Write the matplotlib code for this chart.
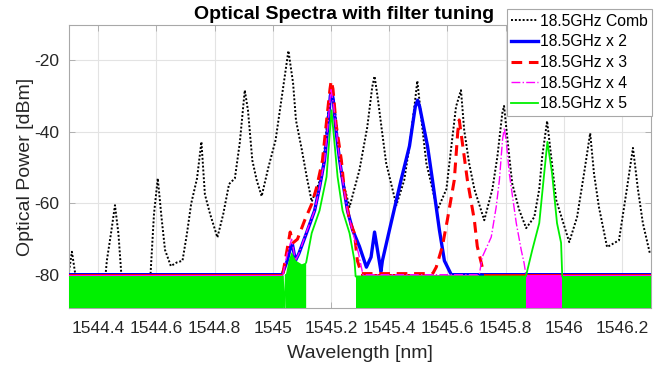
import numpy as np
import matplotlib
matplotlib.use("Agg")
import matplotlib.pyplot as plt

plt.rcParams['font.family'] = ['Liberation Sans', 'DejaVu Sans']
plt.rcParams['axes.unicode_minus'] = False

# ---------------- data ----------------
comb_wl = [1544.300, 1544.310, 1544.322, 1544.330, 1544.420, 1544.430, 1544.445, 1544.458,
           1544.470, 1544.480, 1544.490, 1544.570, 1544.580, 1544.592, 1544.605, 1544.618,
           1544.630, 1544.650, 1544.670, 1544.690, 1544.705, 1544.720, 1544.740, 1544.755,
           1544.767, 1544.785, 1544.810, 1544.830, 1544.850, 1544.870, 1544.887, 1544.904,
           1544.915, 1544.930, 1544.945, 1544.962, 1544.985, 1545.010, 1545.030, 1545.054,
           1545.070, 1545.080, 1545.100, 1545.117, 1545.134, 1545.170, 1545.190, 1545.202,
           1545.215, 1545.235, 1545.264, 1545.298, 1545.325, 1545.342, 1545.350, 1545.360,
           1545.375, 1545.390, 1545.410, 1545.425, 1545.452, 1545.470, 1545.487, 1545.497,
           1545.515, 1545.528, 1545.549, 1545.566, 1545.597, 1545.614, 1545.630, 1545.647,
           1545.658, 1545.675, 1545.693, 1545.727, 1545.755, 1545.772, 1545.789, 1545.795,
           1545.813, 1545.823, 1545.847, 1545.871, 1545.899, 1545.916, 1545.926, 1545.943,
           1545.957, 1545.974, 1546.019, 1546.046, 1546.070, 1546.091, 1546.104, 1546.121,
           1546.149, 1546.190, 1546.217, 1546.238, 1546.255, 1546.272, 1546.296]
comb_db = [-79.0, -73.5, -80.0, -85.0, -85.0, -76.0, -68.0, -60.5,
           -68.6, -80.0, -85.0, -85.0, -80.0, -63.0, -53.0, -64.0,
           -73.0, -77.5, -76.5, -76.0, -68.6, -60.0, -53.0, -42.8,
           -57.5, -63.0, -69.5, -63.0, -54.6, -53.0, -43.0, -28.4,
           -34.0, -48.0, -53.5, -58.0, -50.0, -42.3, -31.0, -17.4,
           -26.4, -36.8, -45.0, -52.6, -59.5, -52.0, -35.0, -28.0,
           -35.0, -52.0, -61.0, -50.7, -38.7, -27.5, -24.5, -30.0,
           -39.5, -48.8, -55.5, -60.5, -53.5, -44.0, -33.0, -25.8,
           -39.5, -48.8, -56.0, -61.8, -56.0, -44.0, -33.0, -28.4,
           -39.5, -48.8, -56.0, -64.7, -56.0, -47.0, -34.8, -32.8,
           -47.0, -54.4, -61.8, -66.9, -63.8, -56.0, -47.0, -37.0,
           -47.0, -59.0, -70.8, -63.8, -51.6, -40.4, -51.6, -61.0,
           -72.2, -70.3, -56.0, -44.5, -56.0, -65.5, -73.9]

x2_wl = [1544.300, 1545.035, 1545.050, 1545.062, 1545.068, 1545.078, 1545.090, 1545.116,
         1545.144, 1545.161, 1545.178, 1545.190, 1545.198, 1545.202, 1545.208, 1545.218,
         1545.230, 1545.245, 1545.257, 1545.275, 1545.298, 1545.322, 1545.338, 1545.350,
         1545.362, 1545.372, 1545.377, 1545.401, 1545.441, 1545.470, 1545.490, 1545.498,
         1545.505, 1545.532, 1545.549, 1545.573, 1545.590, 1545.610, 1546.300]
x2_db = [-79.3, -79.3, -76.0, -72.0, -71.5, -76.0, -74.0, -68.3,
         -62.0, -55.5, -48.0, -38.0, -30.0, -28.5, -31.0, -40.0,
         -48.0, -56.0, -62.0, -67.5, -72.0, -77.8, -75.0, -68.0,
         -74.0, -79.0, -76.0, -67.5, -53.5, -44.0, -33.0, -31.2,
         -33.0, -44.0, -53.5, -67.5, -76.0, -79.3, -79.3]

x3_wl = [1544.300, 1545.035, 1545.045, 1545.060, 1545.070, 1545.085, 1545.110, 1545.135,
         1545.151, 1545.171, 1545.189, 1545.197, 1545.201, 1545.207, 1545.218, 1545.236,
         1545.245, 1545.264, 1545.281, 1545.291, 1545.305, 1545.550, 1545.562, 1545.583,
         1545.600, 1545.624, 1545.636, 1545.641, 1545.650, 1545.669, 1545.693, 1545.703,
         1545.717, 1545.725, 1546.300]
x3_db = [-79.6, -79.6, -75.0, -68.0, -71.0, -70.0, -64.7, -60.0,
         -55.5, -48.0, -34.0, -28.0, -25.8, -28.0, -38.0, -48.0,
         -55.5, -64.7, -68.4, -76.0, -79.6, -79.6, -77.8, -72.0,
         -64.7, -53.5, -40.0, -36.7, -42.0, -53.5, -64.7, -72.0,
         -76.7, -79.6, -79.6]

x4_wl = [1544.300, 1545.035, 1545.050, 1545.065, 1545.078, 1545.090, 1545.116, 1545.144,
         1545.161, 1545.178, 1545.190, 1545.200, 1545.210, 1545.230, 1545.245, 1545.257,
         1545.275, 1545.295, 1545.310, 1545.710, 1545.720, 1545.751, 1545.768, 1545.779,
         1545.790, 1545.796, 1545.803, 1545.813, 1545.837, 1545.854, 1545.864, 1545.870,
         1546.300]
x4_db = [-79.9, -79.9, -74.0, -70.0, -76.0, -74.0, -68.0, -62.0,
         -55.5, -48.0, -38.0, -28.0, -33.0, -48.0, -56.0, -62.0,
         -68.0, -74.0, -79.9, -79.9, -75.0, -69.4, -61.0, -53.5,
         -42.0, -39.0, -43.0, -51.6, -65.5, -73.0, -76.7, -79.9,
         -79.9]

x5_wl = [1544.300, 1545.035, 1545.040, 1545.045, 1545.055, 1545.065, 1545.080, 1545.100,
         1545.115, 1545.134, 1545.161, 1545.185, 1545.202, 1545.223, 1545.240, 1545.264,
         1545.281, 1545.285, 1545.870, 1545.881, 1545.892, 1545.916, 1545.933, 1545.944,
         1545.960, 1545.977, 1545.991, 1545.995, 1546.300]
x5_db = [-80.4, -80.4, -92.0, -80.0, -76.0, -73.6, -76.0, -77.0,
         -76.5, -68.3, -62.0, -52.6, -34.0, -52.6, -62.0, -68.3,
         -76.0, -80.4, -80.4, -76.7, -73.0, -65.5, -51.6, -42.8,
         -51.6, -65.5, -71.0, -80.4, -80.4]

# wavelength ranges where each trace sits in the noise floor
x2_noise = [(1544.30, 1545.035), (1545.61, 1546.30)]
x3_noise = [(1544.30, 1545.035), (1545.305, 1545.55), (1545.725, 1546.30)]
x4_noise = [(1544.30, 1545.035), (1545.31, 1545.71), (1545.87, 1546.30)]
x5_noise = [(1544.30, 1545.035), (1545.045, 1545.115), (1545.285, 1545.87), (1545.995, 1546.30)]

labels = ['18.5GHz Comb', '18.5GHz x 2', '18.5GHz x 3', '18.5GHz x 4', '18.5GHz x 5']
xticks = [1544.4, 1544.6, 1544.8, 1545.0, 1545.2, 1545.4, 1545.6, 1545.8, 1546.0, 1546.2]
xticklabels = ['1544.4', '1544.6', '1544.8', '1545', '1545.2', '1545.4', '1545.6', '1545.8', '1546', '1546.2']
yticks = [-80, -60, -40, -20]

# ---------------- figure ----------------
W, H = 670, 367
fig = plt.figure(figsize=(W / 100, H / 100), dpi=100)
ax = fig.add_axes([69 / W, 1 - 308 / H, (651 - 69) / W, (308 - 25) / H])

YMIN, YMAX = -89.2, -10.2
ax.set_xlim(1544.3, 1546.3)
ax.set_ylim(YMIN, YMAX)

comb_line, = ax.plot(comb_wl, comb_db, color='black', lw=1.4, ls=(0, (1, 1.0)), zorder=2,
                     label=labels[0])

series = [
    (x2_wl, x2_db, x2_noise, dict(color='#0000FF', lw=2.4, ls='-')),
    (x3_wl, x3_db, x3_noise, dict(color='#FF0000', lw=2.2, ls=(0, (3.5, 2.2)))),
    (x4_wl, x4_db, x4_noise, dict(color='#FF00FF', lw=1.0, ls='-.')),
    (x5_wl, x5_db, x5_noise, dict(color='#00F000', lw=1.3, ls='-')),
]
handles = []
z = 3
for (wl, db, noise, st), lab in zip(series, labels[1:]):
    wl_a = np.asarray(wl)
    db_a = np.asarray(db, dtype=float)
    mask = np.zeros(len(wl_a), dtype=bool)
    for lo, hi in noise:
        mask |= (wl_a >= lo - 1e-9) & (wl_a <= hi + 1e-9)
    # noise floor drawn as a filled band
    ax.fill_between(wl_a, YMIN - 5, db_a, where=mask, color=st['color'], lw=0, zorder=z)
    # trace line only outside the noise floor
    line_y = db_a.copy()
    n = len(wl_a)
    for i in range(n):
        left_in = (i == 0) or mask[i - 1]
        right_in = (i == n - 1) or mask[i + 1]
        if mask[i] and left_in and right_in:
            line_y[i] = np.nan
    ax.plot(wl_a, line_y, zorder=z + 0.5, solid_joinstyle='round', **st)
    h, = ax.plot([], [], label=lab, **st)
    handles.append(h)
    z += 1

ax.set_xticks(xticks)
ax.set_xticklabels(xticklabels)
ax.set_yticks(yticks)
ax.grid(True, color='#E3E3E3', lw=0.8, zorder=0)
ax.set_axisbelow(True)
for s in ax.spines.values():
    s.set_color('#A8A8A8')
    s.set_linewidth(0.8)
ax.tick_params(direction='in', top=True, right=True, length=4, width=0.6, color='#A8A8A8',
               labelsize=12.5, labelcolor='#262626', pad=7)
ax.tick_params(axis='x', pad=9.5)

ax.set_xlabel('Wavelength [nm]', fontsize=14, color='#262626', labelpad=6)
ax.set_ylabel('Optical Power [dBm]', fontsize=14, color='#262626', labelpad=0)
ax.set_title('Optical Spectra with filter tuning', fontsize=14, fontweight='bold',
             x=(344 - 69) / (651 - 69), pad=4)

leg = fig.legend([comb_line] + handles, labels, loc='upper right',
                 bbox_to_anchor=(652 / W, 1 - 9 / H), fontsize=11.3, frameon=True,
                 fancybox=False, framealpha=1, edgecolor='#A8A8A8', borderpad=0.3,
                 labelspacing=0.36, handlelength=1.7, handletextpad=0.1, borderaxespad=0)
leg.get_frame().set_linewidth(0.8)

fig.savefig('out.png', dpi=100)
